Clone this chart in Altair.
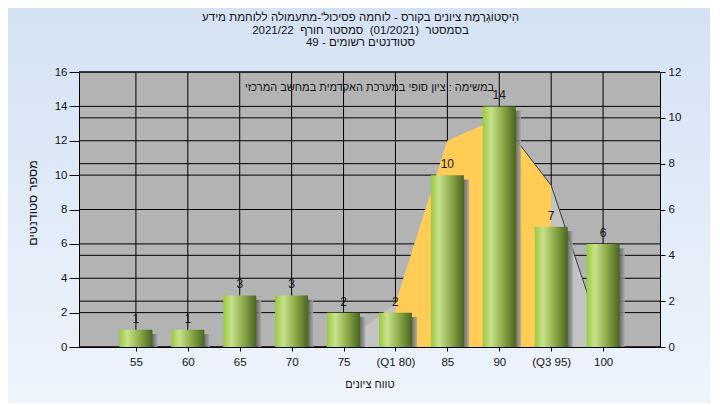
import json
import altair as alt
import pandas as pd

# ---------------- data ----------------
LABELS = ["55", "60", "65", "70", "75", "(Q1 80)", "85", "90", "(Q3 95)", "100"]
COUNTS = [1, 1, 3, 3, 2, 2, 10, 14, 7, 6]
CURVE_IDX = [4, 5, 6, 7, 8, 9]            # category positions of the curve points
CURVE_VAL = [0.15, 1.9, 9.0, 10.0, 7.05, 0.3]  # right-axis units
Q1_IDX, Q3_IDX = 5, 8
EDGE_FROM_IDX = 7
LEFT_TICKS = [0, 2, 4, 6, 8, 10, 12, 14, 16]
RIGHT_TICKS = [0, 2, 4, 6, 8, 10, 12]

NB = "\u00a0"
TITLE_LINES = [
    "הִיסְטוֹגְרָמַת ציונים בקורס - לוחמה פסיכול'-מתעמולה ללוחמת מידע",
    "בסמסטר" + NB + NB + "(01/2021)" + NB + NB + "סמסטר חורף" + NB + NB + "2021/22",
    "סטודנטים רשומים - 49",
]
NOTE = "במשימה : ציון סופי במערכת האקדמית במחשב המרכזי"
X_TITLE = "טווח ציונים"
Y_TITLE = "מספר סטודנטים"

# ---------------- layout / style ----------------
W, H = 581, 275
PL, PT, PR, PB = 71, 64, 50, 56
FONT = "Liberation Sans, Arial, sans-serif"
FS = 11
TXT = "#141414"


def rtl(s):
    return "\u202b" + s + "\u202c"


bars_df = pd.DataFrame({"idx": list(range(len(LABELS))), "label": LABELS, "count": COUNTS})
curve_df = pd.DataFrame({"idx": CURVE_IDX, "val": CURVE_VAL})
mid_df = curve_df[(curve_df["idx"] >= Q1_IDX) & (curve_df["idx"] <= Q3_IDX)]
edge_df = curve_df[curve_df["idx"] >= EDGE_FROM_IDX]

xscale = alt.Scale(domain=[-1, len(LABELS)], nice=False, zero=False)
yl = alt.Scale(domain=[0, 16], nice=False)
yr = alt.Scale(domain=[0, 12], nice=False)

bg_grad = alt.LinearGradient(
    gradient="linear", x1=0, y1=0, x2=0, y2=1,
    stops=[alt.GradientStop(color="#d4e2f4", offset=0),
           alt.GradientStop(color="#eef4fc", offset=1)],
)
bar_grad = alt.LinearGradient(
    gradient="linear", x1=0, y1=0, x2=1, y2=0,
    stops=[alt.GradientStop(color="#9cc83c", offset=0),
           alt.GradientStop(color="#c6e28c", offset=0.25),
           alt.GradientStop(color="#8eac4a", offset=0.6),
           alt.GradientStop(color="#4a6520", offset=1)],
)
shadow_grad = alt.LinearGradient(
    gradient="linear", x1=0, y1=0, x2=1, y2=0,
    stops=[alt.GradientStop(color="#3c3c3c", offset=0),
           alt.GradientStop(color="#4a4a4a", offset=0.8),
           alt.GradientStop(color="#a8a8a8", offset=1)],
)

one = pd.DataFrame({"a": [0]})
label_expr = json.dumps(LABELS) + "[datum.value]"

X_AXIS = alt.Axis(values=list(range(len(LABELS))), labelExpr=label_expr,
                  tickSize=4, labelPadding=5, grid=False, zindex=1,
                  titleX=W / 2, titleY=37, titleBaseline="middle", titleAlign="center")


def xenc(field):
    return alt.X(field, scale=xscale, title=X_TITLE, axis=X_AXIS)


bg = alt.Chart(one).mark_rect(color=bg_grad).encode(
    x=alt.value(-PL), x2=alt.value(W + PR), y=alt.value(-PT), y2=alt.value(H + PB)
)
plotbg = alt.Chart(one).mark_rect(color="#b3b3b3").encode(
    x=alt.value(0), x2=alt.value(W), y=alt.value(0), y2=alt.value(H)
)

vgrid = alt.Chart(bars_df).mark_rule(color="black", strokeWidth=1).encode(
    x=xenc("idx:Q")
)
hgrid_left = alt.Chart(pd.DataFrame({"v": LEFT_TICKS})).mark_rule(color="black", strokeWidth=1).encode(
    y=alt.Y("v:Q", scale=yl, title=Y_TITLE,
            axis=alt.Axis(orient="left", values=LEFT_TICKS, tickSize=10, labelPadding=2,
                          grid=False, zindex=1, titleX=-47, titleY=H / 2 - 7,
                          titleBaseline="middle", titleAlign="center", titleFontSize=FS + 1.5))
)
hgrid_right = alt.Chart(pd.DataFrame({"v": RIGHT_TICKS})).mark_rule(color="black", strokeWidth=1).encode(
    y=alt.Y("v:Q", scale=yr, title=None,
            axis=alt.Axis(orient="right", values=RIGHT_TICKS, tickSize=5, labelPadding=3,
                          grid=False, zindex=1))
)
area_grey = alt.Chart(curve_df).mark_area(color="#c3c3c3").encode(
    x=xenc("idx:Q"),
    y=alt.Y("val:Q", scale=yr, axis=None),
)
area_yellow = alt.Chart(mid_df).mark_area(color="#ffcc55").encode(
    x=xenc("idx:Q"),
    y=alt.Y("val:Q", scale=yr, axis=None),
)
edge_line = alt.Chart(edge_df).mark_line(color="#3a3a3a", strokeWidth=1).encode(
    x=xenc("idx:Q"),
    y=alt.Y("val:Q", scale=yr, axis=None),
)
shadows = alt.Chart(bars_df).transform_calculate(
    xs="datum.idx + 0.1", ys="max(datum.count - 0.25, 0)"
).mark_bar(size=33, color=shadow_grad, opacity=0.85).encode(
    x=xenc("xs:Q"),
    y=alt.Y("ys:Q", scale=yl, axis=None),
)
bars = alt.Chart(bars_df).mark_bar(size=33, color=bar_grad).encode(
    x=xenc("idx:Q"),
    y=alt.Y("count:Q", scale=yl, axis=None),
)
labels = alt.Chart(bars_df).mark_text(
    dy=-7, baseline="alphabetic", font=FONT, fontSize=FS + 1, color=TXT
).encode(
    x=xenc("idx:Q"),
    y=alt.Y("count:Q", scale=yl, axis=None),
    text=alt.Text("count:Q"),
)
note = alt.Chart(pd.DataFrame({"t": [rtl(NOTE)]})).mark_text(
    font=FONT, fontSize=FS, color=TXT, baseline="middle", align="center"
).encode(x=alt.value(W / 2), y=alt.value(16), text="t:N")

title_text = "\n".join(rtl(t) for t in TITLE_LINES)
title = alt.Chart(pd.DataFrame({"t": [title_text]})).mark_text(
    font=FONT, fontSize=FS + 0.5, color=TXT, baseline="middle", align="center",
    lineBreak="\n", lineHeight=12.5,
).encode(x=alt.value(W / 2 - 9), y=alt.value(18 - (PT + 8)), text="t:N")

chart = alt.layer(
    bg, plotbg, vgrid, hgrid_left, hgrid_right, area_grey, area_yellow, edge_line,
    shadows, bars, labels, note, title
).resolve_scale(
    y="independent"
).properties(
    width=W,
    height=H,
    autosize=alt.AutoSizeParams(type="none"),
    padding={"left": PL, "top": PT, "right": PR, "bottom": PB},
).configure(
    background="#e3ecf8"
).configure_view(
    stroke=None
).configure_axis(
    labelFont=FONT, labelFontSize=FS + 0.5, labelColor=TXT,
    titleFont=FONT, titleFontSize=FS, titleFontWeight="normal", titleColor=TXT,
    domainColor="black", tickColor="black",
)

chart.save("out.html", embed_options={"renderer": "svg", "actions": False})
